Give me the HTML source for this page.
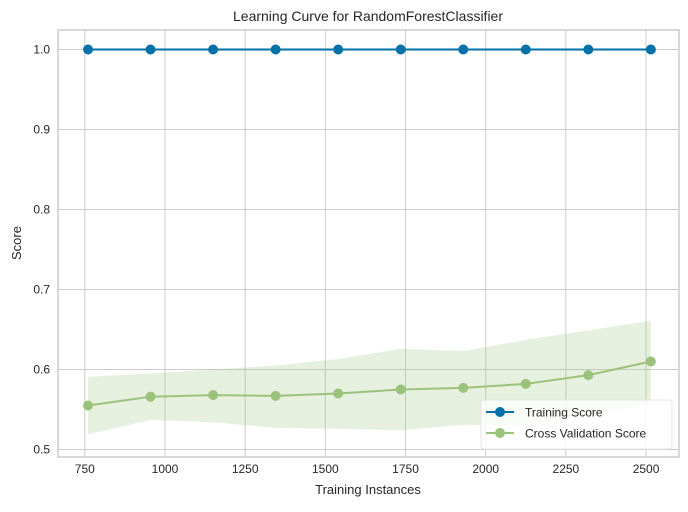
<!DOCTYPE html>
<html><head><meta charset="utf-8"><style>
body{margin:0;background:#fff}
svg text{font-family:"Liberation Sans",sans-serif;fill:#262626}
</style></head><body>
<svg id="chart" width="688" height="507" xmlns="http://www.w3.org/2000/svg"></svg>
<script>
const trainSizes=[760,955,1150,1345,1540,1735,1930,2125,2320,2515];
const trainScores=[1,1,1,1,1,1,1,1,1,1];
const cvScores=[0.555,0.566,0.568,0.567,0.570,0.575,0.577,0.582,0.593,0.610];
const cvUpper=[0.591,0.595,0.600,0.605,0.613,0.626,0.623,0.637,0.649,0.661];
const cvLower=[0.519,0.537,0.534,0.527,0.526,0.524,0.531,0.530,0.543,0.558];
const xTicks=[750,1000,1250,1500,1750,2000,2250,2500];
const yTicks=[0.5,0.6,0.7,0.8,0.9,1.0];
const L=58,R=679,T=30,B=457;
const X=v=>165+(v-1000)*0.3207;
const Y=v=>49.5+(1-v)*800;
const svg=document.getElementById('chart');
const NS='http://www.w3.org/2000/svg';
function el(t,a,p){const e=document.createElementNS(NS,t);for(const k in a)e.setAttribute(k,a[k]);(p||svg).appendChild(e);return e;}
let r=el('rect',{x:L,y:T,width:R-L,height:B-T,fill:'#fff',stroke:'#cccccc','stroke-width':1.5});


xTicks.forEach(v=>{
  const g=el('line',{x1:X(v),x2:X(v),y1:T,y2:B,stroke:'#cccccc','stroke-width':1});
  
  
  const t=el('text',{x:X(v),y:473,'text-anchor':'middle','font-size':12});t.textContent=v;
  
  
});
yTicks.forEach(v=>{
  const g=el('line',{x1:L,x2:R,y1:Y(v),y2:Y(v),stroke:'#cccccc','stroke-width':1});
  
  
  const t=el('text',{x:50,y:Y(v)+4,'text-anchor':'end','font-size':12});t.textContent=v.toFixed(1);
  
  
});
let d='M'+trainSizes.map((s,i)=>X(s)+','+Y(cvUpper[i])).join('L');
for(let i=trainSizes.length-1;i>=0;i--)d+='L'+X(trainSizes[i])+','+Y(cvLower[i]);
const band=el('path',{d:d+'Z',fill:'#9bc27a','fill-opacity':0.25});


function series(vals,color,name){
  const p=el('polyline',{points:trainSizes.map((s,i)=>X(s)+','+Y(vals[i])).join(' '),fill:'none',stroke:color,'stroke-width':2});
  
  
  trainSizes.forEach((s,i)=>{const c=el('circle',{cx:X(s),cy:Y(vals[i]),r:5,fill:color});
    
    });
}
series(cvScores,'#9bc27a','cv-score');
series(trainScores,'#0072a8','training-score');
const lg=el('g',{});


el('rect',{x:481,y:400,width:191,height:49,rx:3,fill:'#fff','fill-opacity':0.8,stroke:'#e6e6e6'},lg);
[['Training Score','#0072a8',412],['Cross Validation Score','#9bc27a',433]].forEach(([n,c,y])=>{
  el('line',{x1:486,x2:514,y1:y,y2:y,stroke:c,'stroke-width':2},lg);
  el('circle',{cx:500,cy:y,r:5,fill:c},lg);
  const t=el('text',{x:525,y:y+4.5,'font-size':12},lg);t.textContent=n;
  
  
});
const ti=el('text',{x:368,y:21,'text-anchor':'middle','font-size':14});ti.textContent='Learning Curve for RandomForestClassifier';


const xt=el('text',{x:368,y:494,'text-anchor':'middle','font-size':13});xt.textContent='Training Instances';


const yt=el('text',{x:21,y:243,'text-anchor':'middle','font-size':13,transform:'rotate(-90 21 243)'});yt.textContent='Score';


</script>
</body></html>
